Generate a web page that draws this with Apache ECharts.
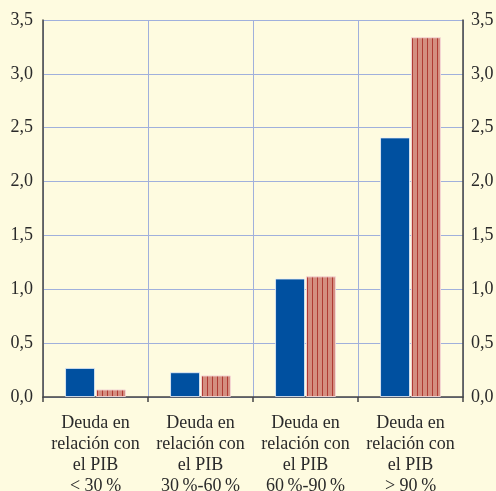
<!DOCTYPE html>
<html>
<head>
<meta charset="utf-8">
<script src="https://cdn.jsdelivr.net/npm/echarts@6/dist/echarts.min.js"></script>
<style>
  html, body { margin: 0; padding: 0; background: #fefbe0; }
  #chart { width: 496px; height: 491px; }
</style>
</head>
<body>
<div id="chart"></div>
<script>
// Debt-to-GDP buckets
const categories = [
  'Deuda en\nrelación con\nel PIB\n< 30\u2009%',
  'Deuda en\nrelación con\nel PIB\n30\u2009%-60\u2009%',
  'Deuda en\nrelación con\nel PIB\n60\u2009%-90\u2009%',
  'Deuda en\nrelación con\nel PIB\n> 90\u2009%'
];
const seriesBlue = [0.27, 0.23, 1.10, 2.41];
const seriesStriped = [0.07, 0.20, 1.12, 3.34];
const yTicks = { min: 0, max: 3.5, interval: 0.5 };

// Vertical stripe fill for the second series
function stripePattern() {
  const c = document.createElement('canvas');
  c.width = 5; c.height = 4;
  const ctx = c.getContext('2d');
  ctx.fillStyle = '#d48e80';
  ctx.fillRect(0, 0, 5, 4);
  ctx.fillStyle = '#b03a33';
  ctx.fillRect(2, 0, 1, 4);
  return c;
}

const font = '"Liberation Serif", "Times New Roman", serif';
const fmt = v => v.toFixed(1).replace('.', ',');

const valueAxis = (pos) => ({
  type: 'value',
  position: pos,
  min: yTicks.min, max: yTicks.max, interval: yTicks.interval,
  axisLine: { show: true, lineStyle: { color: '#444', width: 1.5 } },
  axisTick: { show: false },
  splitLine: { show: pos === 'left', lineStyle: { color: '#a0b0dc', width: 1 } },
  axisLabel: { formatter: fmt, fontFamily: font, fontSize: 18, color: '#2a2a2a', margin: pos === 'left' ? 10 : 8 }
});

const chart = echarts.init(document.getElementById('chart'), null, { renderer: 'canvas' });
chart.setOption({
  backgroundColor: '#fefbe0',
  animation: false,
  grid: { left: 43, right: 33, top: 20, bottom: 94, outerBoundsMode: 'none', containLabel: false },
  xAxis: {
    type: 'category',
    data: categories,
    offset: 3,
    axisLine: { show: true, lineStyle: { color: '#444', width: 1.5 } },
    axisTick: { show: true, alignWithLabel: false, length: 5, lineStyle: { color: '#444', width: 1.5 } },
    splitLine: { show: true, lineStyle: { color: '#a0b0dc', width: 1 } },
    axisLabel: { fontFamily: font, fontSize: 18, color: '#2a2a2a', lineHeight: 21, margin: 13, interval: 0 }
  },
  yAxis: [valueAxis('left'), valueAxis('right')],
  series: [
    {
      type: 'bar',
      data: seriesBlue,
      barGap: '3%',
      barCategoryGap: '42%',
      itemStyle: { color: '#0050a0', borderColor: 'rgba(235,240,250,0.8)', borderWidth: 1 }
    },
    {
      type: 'bar',
      data: seriesStriped,
      itemStyle: {
        color: { image: stripePattern(), repeat: 'repeat' },
        borderColor: 'rgba(245,215,215,0.9)', borderWidth: 1
      }
    }
  ]
});
</script>
</body>
</html>
